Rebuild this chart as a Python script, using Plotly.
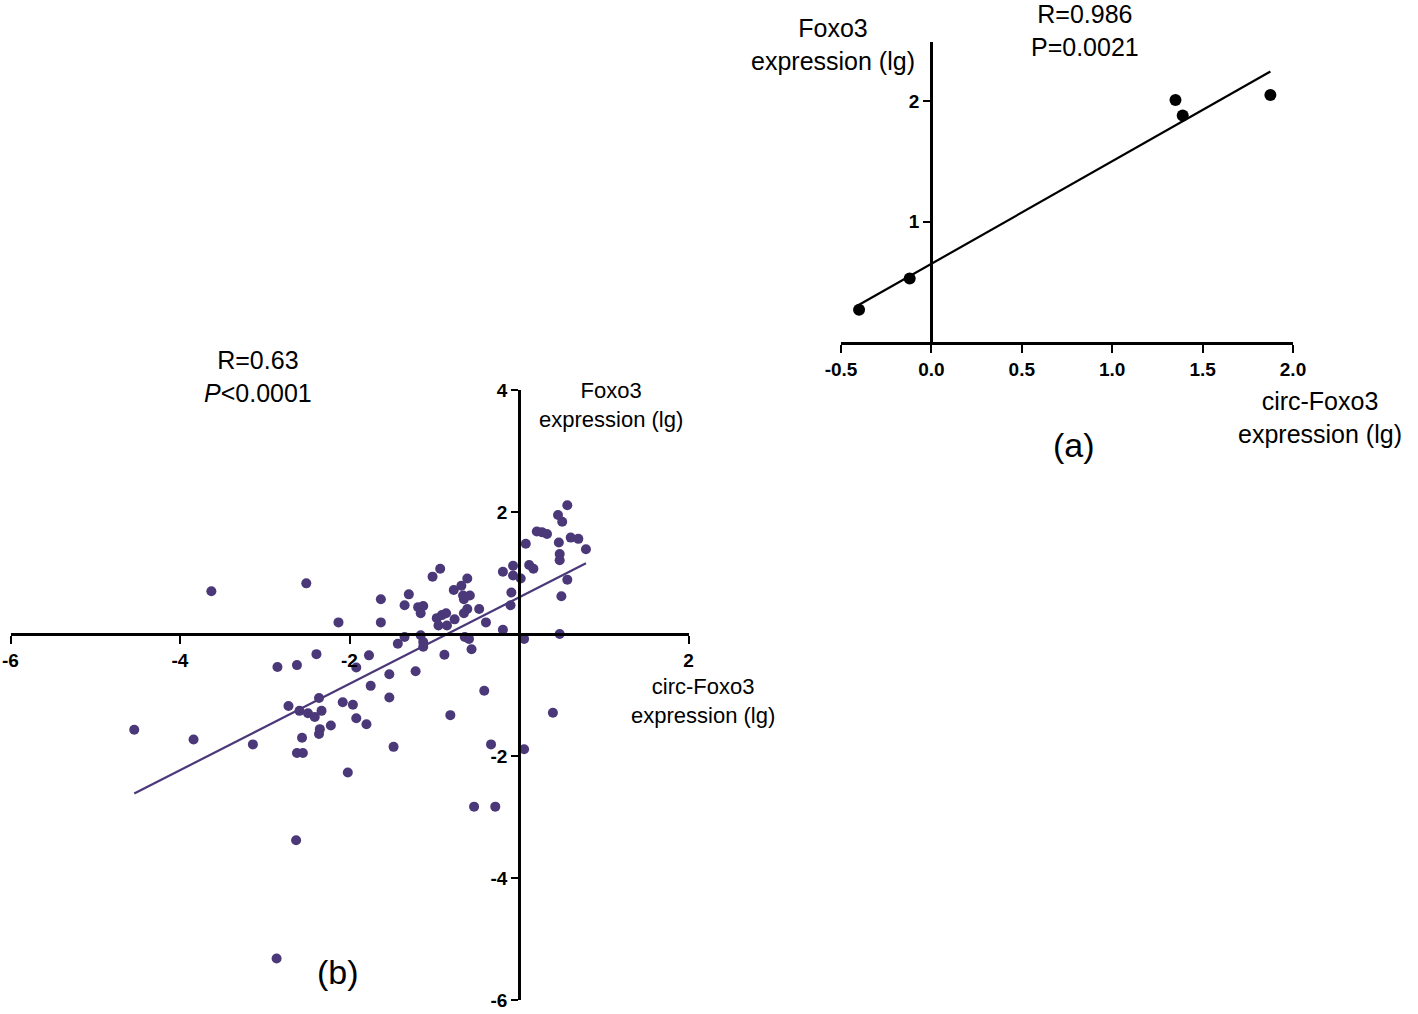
import numpy as np
import plotly.graph_objects as go

# ---------------- Panel (a) data ----------------
a_circ = [-0.40, -0.12, 1.35, 1.39, 1.875]
a_foxo = [0.27, 0.53, 2.01, 1.88, 2.05]
a_xticks = [-0.5, 0.0, 0.5, 1.0, 1.5, 2.0]
a_xticklabels = ["-0.5", "0.0", "0.5", "1.0", "1.5", "2.0"]
a_yticks = [1, 2]
a_yticklabels = ["1", "2"]

# ---------------- Panel (b) data ----------------
b_circ = [
    0.57, 0.46, 0.51, 0.21, 0.27, 0.33, 0.08, 0.47, 0.61, 0.70,
    0.79, 0.48, 0.48, 0.12, 0.17, -0.07, -0.19, -0.07, 0.02, 0.57,
    0.50, -0.09, -0.10, 0.48, 0.06, -0.19, -0.39, -1.02, -0.93, -0.77,
    -0.68, -0.66, -0.61, -0.58, -0.65, -1.63, -1.30, -1.35, -1.19, -1.13,
    -1.16, -0.61, -0.65, -0.47, -1.63, -0.97, -0.91, -0.86, -0.95, -0.85,
    -0.76, -1.35, -1.43, -1.16, -1.13, -1.13, -0.64, -0.59, -0.56, -0.88,
    -3.63, -2.51, -2.13, -2.39, -2.85, -2.62, -1.77, -1.92, -1.53, -1.22,
    -1.75, -2.36, -1.53, -2.72, -2.59, -2.49, -2.41, -2.33, -2.08, -1.96,
    -1.92, -1.80, -2.22, -2.35, -2.36, -2.56, -2.62, -2.55, -2.02, -4.54,
    -3.84, -3.14, -0.81, -0.41, -1.48, -0.33, 0.06, 0.40, -0.53, -0.28,
    -2.63, -2.86,
]
b_foxo = [
    2.11, 1.95, 1.84, 1.68, 1.67, 1.64, 1.48, 1.50, 1.58, 1.56,
    1.39, 1.31, 1.21, 1.13, 1.07, 1.12, 1.02, 0.96, 0.91, 0.89,
    0.62, 0.68, 0.47, 0.00, -0.08, 0.07, 0.19, 0.94, 1.07, 0.72,
    0.79, 0.63, 0.91, 0.63, 0.57, 0.57, 0.65, 0.47, 0.44, 0.46,
    0.34, 0.41, 0.34, 0.41, 0.19, 0.26, 0.31, 0.34, 0.14, 0.14,
    0.24, -0.05, -0.16, -0.02, -0.13, -0.21, -0.05, -0.08, -0.25, -0.34,
    0.70, 0.83, 0.19, -0.33, -0.54, -0.51, -0.35, -0.55, -0.66, -0.61,
    -0.85, -1.05, -1.04, -1.18, -1.26, -1.30, -1.36, -1.26, -1.12, -1.16,
    -1.38, -1.48, -1.50, -1.56, -1.64, -1.70, -1.95, -1.95, -2.27, -1.57,
    -1.73, -1.81, -1.33, -0.93, -1.85, -1.81, -1.89, -1.29, -2.83, -2.83,
    -3.38, -5.32,
]
b_xticks = [-6, -4, -2, 2]
b_xticklabels = ["-6", "-4", "-2", "2"]
b_yticks = [-6, -4, -2, 2, 4]
b_yticklabels = ["-6", "-4", "-2", "2", "4"]

PURPLE = "#4a3878"
W, H = 1418, 1014


def px(x):
    return x / W


def py(y):
    return 1 - y / H


def fit_line(xs, ys):
    xs = np.asarray(xs, float)
    ys = np.asarray(ys, float)
    k, b = np.polyfit(xs, ys, 1)
    lx = np.array([xs.min(), xs.max()])
    return lx, k * lx + b


fig = go.Figure()

# Panel (a)
la_x, la_y = fit_line(a_circ, a_foxo)
fig.add_trace(go.Scatter(x=la_x, y=la_y, mode="lines",
                         line=dict(color="black", width=2.2),
                         xaxis="x", yaxis="y", hoverinfo="skip"))
fig.add_trace(go.Scatter(x=a_circ, y=a_foxo, mode="markers",
                         marker=dict(color="black", size=12),
                         xaxis="x", yaxis="y", cliponaxis=False))

# Panel (b)
lb_x, lb_y = fit_line(b_circ, b_foxo)
fig.add_trace(go.Scatter(x=lb_x, y=lb_y, mode="lines",
                         line=dict(color=PURPLE, width=2.2),
                         xaxis="x2", yaxis="y2", hoverinfo="skip"))
fig.add_trace(go.Scatter(x=b_circ, y=b_foxo, mode="markers",
                         marker=dict(color=PURPLE, size=10),
                         xaxis="x2", yaxis="y2", cliponaxis=False))

tickfont_a = dict(family="Arial, Liberation Sans", size=19, color="black", weight="bold")
tickfont_b = dict(family="Arial, Liberation Sans", size=19, color="black", weight="bold")
base = dict(showgrid=False, zeroline=False, showline=True, automargin=False,
            linecolor="black", linewidth=2.6, ticks="outside",
            tickcolor="black", tickwidth=2.4)

fig.update_layout(
    width=W, height=H,
    margin=dict(l=0, r=0, t=0, b=0, pad=0, autoexpand=False),
    paper_bgcolor="white", plot_bgcolor="rgba(0,0,0,0)",
    showlegend=False,
    xaxis=dict(domain=[px(841), px(1293)], range=[-0.5, 2.0], anchor="y",
               tickvals=a_xticks, ticktext=a_xticklabels, tickfont=tickfont_a,
               ticklen=8, **base),
    yaxis=dict(domain=[py(342.4), py(42)], range=[0, 2.49], anchor="free",
               position=px(931), tickvals=a_yticks, ticktext=a_yticklabels,
               tickfont=tickfont_a, ticklen=7, **base),
    xaxis2=dict(domain=[px(10.5), px(688.5)], range=[-6, 2], anchor="free",
                position=py(634), tickvals=b_xticks, ticktext=b_xticklabels,
                tickfont=tickfont_b, ticklen=8, **base),
    yaxis2=dict(domain=[py(1000), py(390)], range=[-6, 4], anchor="free",
                position=px(519), tickvals=b_yticks, ticktext=b_yticklabels,
                tickfont=tickfont_b, ticklen=7, **base),
)

txt = dict(family="Arial, Liberation Sans", color="black")


def note(x, y, text, size, xanchor="center"):
    fig.add_annotation(x=px(x), y=py(y), xref="paper", yref="paper",
                       text=text, showarrow=False, xanchor=xanchor, yanchor="middle",
                       font=dict(size=size, **txt), align="center")


# Panel (a) texts
note(833, 44, "Foxo3<br>expression (lg)", 25)
note(1085, 30, "R=0.986<br>P=0.0021", 25)
note(1320, 417, "circ-Foxo3<br>expression (lg)", 25)
note(1074, 445, "(a)", 34)

# Panel (b) texts
note(258, 376, "R=0.63<br><i>P</i>&lt;0.0001", 25)
note(611, 405, "Foxo3<br>expression (lg)", 22)
note(703, 701, "circ-Foxo3<br>expression (lg)", 22)
note(338, 972, "(b)", 34)

fig.write_html(
    "out.html",
    config={"displayModeBar": False},
    post_script="document.body.style.margin='0px';document.body.style.overflow='hidden';",
)
